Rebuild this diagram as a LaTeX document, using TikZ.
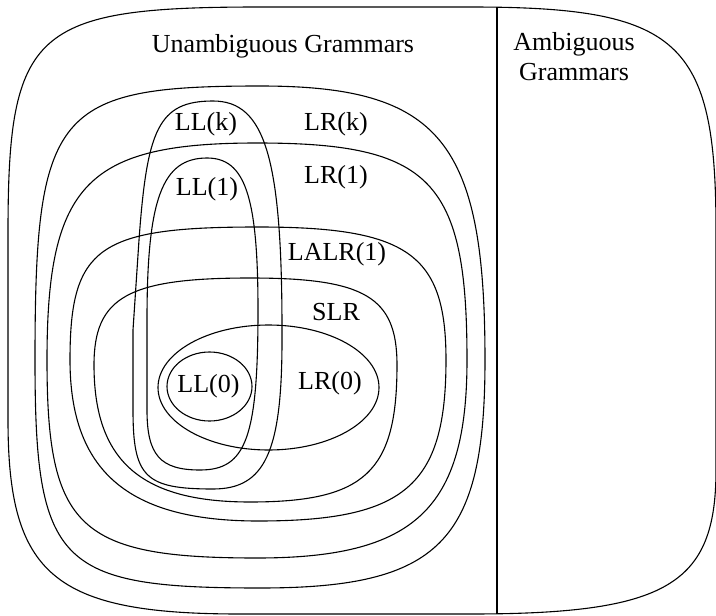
\documentclass[tikz,border=0pt]{standalone}
\usepackage{fontspec}
\setmainfont{Liberation Serif}
\tikzset{
  region/.style={draw, line width=1.1pt},
  class/.style={font=\fontsize{26}{30}\selectfont, inner sep=0pt, anchor=base},
}

\begin{document}
\begin{tikzpicture}[x=1pt,y=-1pt]
  \useasboundingbox (0,0) rectangle (716,616);
  % all grammars
  \draw[region] (8,233) .. controls +(0,-203) and +(-227,0) .. (260,7) -- (470,7)
    .. controls +(209,0) and +(0,-190) .. (716,230) -- (716,470)
    .. controls +(0,115) and +(197,0) .. (470,614) -- (240,614)
    .. controls +(-186,0) and +(0,155) .. (8,420) -- cycle;
  \draw[region] (497,7) -- (497,614);
  % LR family
  \draw[region] (35,360) .. controls +(0,-249) and +(-205,0) .. (260,86)
    .. controls +(180,0) and +(0,-219) .. (485,360)
    .. controls +(0,182) and +(180,0) .. (260,588)
    .. controls +(-202,0) and +(0,205) .. (35,360) -- cycle;
  \draw[region] (47,360) .. controls +(0,-176) and +(-170,0) .. (257,143)
    .. controls +(174,0) and +(0,-180) .. (467,360)
    .. controls +(0,149) and +(158,0) .. (257,558)
    .. controls +(-179,0) and +(0,168) .. (47,360) -- cycle;
  \draw[region] (70,360) .. controls +(0,-113) and +(-160,0) .. (258,227)
    .. controls +(150,0) and +(0,-106) .. (446,360)
    .. controls +(0,126) and +(147,0) .. (258,521)
    .. controls +(-130,0) and +(0,111) .. (70,360) -- cycle;
  \draw[region] (94,365) .. controls +(0,-68) and +(-122,0) .. (250,278)
    .. controls +(115,0) and +(0,-68) .. (397,365)
    .. controls +(0,107) and +(115,0) .. (250,502)
    .. controls +(-109,0) and +(0,96) .. (94,365) -- cycle;
  \draw[region] (268.5,387.5) ellipse [x radius=110.5, y radius=62.5];
  % LL family
  \draw[region] (133,330) -- (139,240) .. controls +(8,-110) and +(-55,0) .. (213,101)
    .. controls +(52,0) and +(0,-172) .. (282,330) -- (282,340)
    .. controls +(0,112) and +(52,0) .. (213,489)
    .. controls +(-68,0) and +(0,67) .. (133,410) -- cycle;
  \draw[region] (147,320) .. controls +(0,-121) and +(-45,0) .. (207,158)
    .. controls +(38,0) and +(0,-114) .. (258,310)
    .. controls +(0,128) and +(46,0) .. (200,470)
    .. controls +(-40,0) and +(0,45) .. (147,410) -- cycle;
  \draw[region] (209.5,386.5) ellipse [x radius=42.5, y radius=34.5];

  \node[class] (unamb) at (283,52) {Unambiguous Grammars};
  \node[class, align=center] (amb) at (574,80) {Ambiguous\\Grammars};
  \node[class] (llk) at (206,130) {LL(k)};
  \node[class] (lrk) at (336,130) {LR(k)};
  \node[class] (ll1) at (207,195) {LL(1)};
  \node[class] (lr1) at (336,183) {LR(1)};
  \node[class] (lalr) at (337,260) {LALR(1)};
  \node[class] (slr) at (336,320) {SLR};
  \node[class] (ll0) at (208.5,392) {LL(0)};
  \node[class] (lr0) at (330,389) {LR(0)};
\end{tikzpicture}
\end{document}
